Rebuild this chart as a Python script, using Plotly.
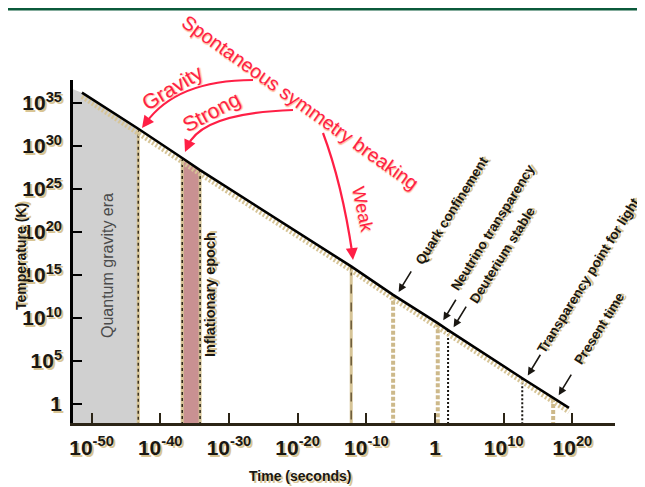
import plotly.graph_objects as go

# ---------------- data (log10 values) ----------------
# cooling curve: log10(time / s) and log10(temperature / K)
line_log_time = [-51.4, -43.2, -36.8, -34.2, -12.2, -6.1, 0.4, 1.9, 12.7, 17.2, 19.5]
line_log_temp = [36.2, 32.0, 28.6, 27.2, 16.0, 12.7, 9.4, 8.6, 3.0, 0.7, -0.45]

# quantum gravity era (shaded grey) upper edge
gravity_era_log_time = [-52.7, -51.4, -43.2]
gravity_era_log_temp = [36.6, 36.2, 32.0]

# inflationary epoch (shaded pink) upper edge
inflation_log_time = [-36.8, -34.2]
inflation_log_temp = [28.6, 27.2]

# events marked by vertical lines
event_names = ["Planck time", "Inflation start", "Inflation end", "Weak",
               "Quark confinement", "Neutrino transparency", "Deuterium stable",
               "Transparency point for light", "Present time"]
event_log_time = [-43.2, -36.8, -34.2, -12.2, -6.1, 0.4, 1.9, 12.7, 17.2]
event_log_temp = [32.0, 28.6, 27.2, 16.0, 12.7, 9.4, 8.6, 3.0, 0.7]

# tick labels
x_tick_exps = [-50, -40, -30, -20, -10, 0, 10, 20]
x_tick_text = ["10<sup>-50</sup>", "10<sup>-40</sup>", "10<sup>-30</sup>", "10<sup>-20</sup>",
               "10<sup>-10</sup>", "1", "10<sup>10</sup>", "10<sup>20</sup>"]
y_tick_exps = [0, 5, 10, 15, 20, 25, 30, 35]
y_tick_text = ["1", "10<sup>5</sup>", "10<sup>10</sup>", "10<sup>15</sup>", "10<sup>20</sup>",
               "10<sup>25</sup>", "10<sup>30</sup>", "10<sup>35</sup>"]

X_RANGE = [-52.7, 26.2]
Y_RANGE = [-2.2, 37.67]

# ---------------- styles ----------------
RED = "#ff1f45"
RED_SHADOW = "1px 1px 1px #ffb898"
BEIGE = "#d6c496"
DARK = "#1a1712"
NARROW = "Liberation Sans Narrow, Arial Narrow, Liberation Sans, Arial, sans-serif"
SANS = "Liberation Sans, Arial, sans-serif"
TXT_SHADOW = "2px 2px 0px #d9c594"

event_style = {
    "Planck time": ("dot", "#3a3020", 1.5, True),
    "Inflation start": ("dot", "#2a2418", 1.5, True),
    "Inflation end": ("dot", "#2a2418", 1.5, True),
    "Weak": ("dash", "#6b5a3a", 1.5, True),
    "Quark confinement": ("4px,2px", "#cdb98a", 4, False),
    "Neutrino transparency": ("4px,2px", "#cdb98a", 4, False),
    "Deuterium stable": ("2px,2px", "#1a1712", 2, False),
    "Transparency point for light": ("2px,2px", "#1a1712", 2, False),
    "Present time": ("4px,2px", "#cdb98a", 4, False),
}

def p(v):
    return 10.0 ** float(v)

fig = go.Figure()

ymin = p(Y_RANGE[0])

# quantum gravity era fill
gx = [p(v) for v in gravity_era_log_time] + [p(gravity_era_log_time[-1]), p(gravity_era_log_time[0])]
gy = [p(v) for v in gravity_era_log_temp] + [ymin, ymin]
fig.add_trace(go.Scatter(x=gx, y=gy, fill="toself", fillcolor="#d0d0d0",
                         line=dict(width=0), mode="lines", hoverinfo="skip", showlegend=False))

# inflation fill
ix = [p(v) for v in inflation_log_time] + [p(inflation_log_time[-1]), p(inflation_log_time[0])]
iy = [p(v) for v in inflation_log_temp] + [ymin, ymin]
fig.add_trace(go.Scatter(x=ix, y=iy, fill="toself", fillcolor="#c99192",
                         line=dict(width=0), mode="lines", hoverinfo="skip", showlegend=False))

# vertical event lines
for name, lt, lT in zip(event_names, event_log_time, event_log_temp):
    dash, col, w, under = event_style[name]
    if under:
        fig.add_trace(go.Scatter(x=[p(lt), p(lt)], y=[p(lT), ymin], mode="lines",
                                 line=dict(color=BEIGE, width=3), hoverinfo="skip", showlegend=False))
    fig.add_trace(go.Scatter(x=[p(lt), p(lt)], y=[p(lT), ymin], mode="lines",
                             line=dict(color=col, width=w, dash=dash), hoverinfo="skip", showlegend=False))

# beige hatched shadow below the cooling line
fig.add_trace(go.Scatter(x=[p(v) for v in line_log_time], y=[p(v - 0.45) for v in line_log_temp],
                         mode="lines", line=dict(color=BEIGE, width=5, dash="2px,2px"),
                         hoverinfo="skip", showlegend=False))
# cooling line
fig.add_trace(go.Scatter(x=[p(v) for v in line_log_time], y=[p(v) for v in line_log_temp],
                         mode="lines", line=dict(color="#000000", width=2.6),
                         showlegend=False))

annotations = []

# black event labels and arrows
label_offsets = {
    "Quark confinement": (59, 84),
    "Neutrino transparency": (55, 96),
    "Deuterium stable": (54, 75),
    "Transparency point for light": (66, 103),
    "Present time": (46, 70),
}
for name, lt, lT in zip(event_names, event_log_time, event_log_temp):
    if name not in label_offsets:
        continue
    dx, dy = label_offsets[name]
    annotations.append(dict(x=lt, y=lT, xref="x", yref="y", text="", showarrow=True,
                            ax=14, ay=-23, arrowhead=2, arrowsize=1, arrowwidth=1.6,
                            arrowcolor=DARK, xshift=5, yshift=2, standoff=1))
    annotations.append(dict(x=lt, y=lT, xref="x", yref="y", text=name, showarrow=False,
                            textangle=-58, xshift=dx, yshift=dy,
                            xanchor="center", yanchor="middle",
                            font=dict(family=NARROW, size=13.6, color=DARK, weight="bold",
                                      shadow=TXT_SHADOW)))

# red labels tied to events
red_labels = {"Planck time": ("Gravity", -31, 34, 41, 21),
              "Inflation start": ("Strong", -28, 29, 47, 21),
              "Weak": ("Weak", 78, 11, 57, 18)}
for name, lt, lT in zip(event_names, event_log_time, event_log_temp):
    if name in red_labels:
        txt, ang, dx, dy, sz = red_labels[name]
        annotations.append(dict(x=lt, y=lT, xref="x", yref="y", text=txt, showarrow=False,
                                textangle=ang, xshift=dx, yshift=dy,
                                xanchor="center", yanchor="middle",
                                font=dict(family=SANS, size=sz, color=RED, shadow=RED_SHADOW)))

# The page body has an 8px margin: the plot area (screen 73..615 x 80..423) is kept
# by shrinking the figure and its margins by 8px; helpers below use screen pixels.
OFF = 8
SL, SR, ST, SB = 73, 615, 80, 423           # plot area on screen
FIG_W, FIG_H = 645 - OFF, 487 - OFF
def px(x):
    return (x - SL) / (SR - SL)
def py(y):
    return (SB - y) / (SB - ST)

annotations.append(dict(x=px(300), y=py(102), xref="paper", yref="paper",
                        xanchor="center", yanchor="middle",
                        text="Spontaneous symmetry breaking", showarrow=False, textangle=35.5,
                        font=dict(family=SANS, size=19.5, color=RED, shadow=RED_SHADOW)))

# red curved arrows (quadratic paths) with heads
arrows = [((253, 80), (176.5, 80), (142, 128), (6, -8)),
          ((293, 110), (201, 113), (185, 152), (4, -9)),
          ((323, 133), (342, 183.5), (353, 260), (-1, -10))]
shapes = []
for (p0, c, p2, (ax, ay)) in arrows:
    path = "M {},{} Q {},{} {},{}".format(px(p0[0]), py(p0[1]), px(c[0]), py(c[1]),
                                          px(p2[0] + ax * 0.6), py(p2[1] + ay * 0.6))
    shapes.append(dict(type="path", path=path, xref="paper", yref="paper",
                       line=dict(color=RED, width=2.2)))
    annotations.append(dict(x=px(p2[0]), y=py(p2[1]), xref="paper", yref="paper", text="",
                            showarrow=True, ax=ax, ay=ay, arrowhead=2, arrowsize=1.2,
                            arrowwidth=2, arrowcolor=RED))

# region labels
annotations.append(dict(x=px(107), y=py(266), xref="paper", yref="paper",
                        xanchor="center", yanchor="middle",
                        text="Quantum gravity era", showarrow=False, textangle=-90,
                        font=dict(family=SANS, size=16, color="#4a4a4a")))
annotations.append(dict(x=px(210), y=py(295), xref="paper", yref="paper",
                        xanchor="center", yanchor="middle",
                        text="Inflationary epoch", showarrow=False, textangle=-90,
                        font=dict(family=NARROW, size=14.5, color=DARK, weight="bold",
                                  shadow=TXT_SHADOW)))

# axis titles
annotations.append(dict(x=px(21), y=py(257), xref="paper", yref="paper",
                        xanchor="center", yanchor="middle",
                        text="Temperature (K)", showarrow=False, textangle=-90,
                        font=dict(family=NARROW, size=14, color=DARK, weight="bold",
                                  shadow=TXT_SHADOW)))
annotations.append(dict(x=px(300), y=py(476), xref="paper", yref="paper",
                        xanchor="center", yanchor="middle",
                        text="Time (seconds)", showarrow=False,
                        font=dict(family=NARROW, size=14, color=DARK, weight="bold",
                                  shadow=TXT_SHADOW)))

# top rule
shapes.append(dict(type="line", xref="paper", yref="paper", x0=px(0), x1=px(660),
                   y0=py(9.3), y1=py(9.3), line=dict(color="#0b5a3b", width=2.6)))

tickfont = dict(family=NARROW, size=21, color=DARK, weight="bold", shadow=TXT_SHADOW)

fig.update_layout(
    width=FIG_W, height=FIG_H,
    margin=dict(l=SL - OFF, r=FIG_W - (SR - OFF), t=ST - OFF, b=FIG_H - (SB - OFF)),
    paper_bgcolor="white", plot_bgcolor="white",
    showlegend=False,
    annotations=annotations,
    shapes=shapes,
    xaxis=dict(type="log", range=X_RANGE, showgrid=False, zeroline=False,
               showline=True, linecolor="#2b2416", linewidth=2.5,
               ticks="inside", ticklen=10, tickwidth=2, tickcolor="#2b2416",
               tickvals=[p(v) for v in x_tick_exps], ticktext=x_tick_text,
               tickfont=tickfont, ticklabelstandoff=4),
    yaxis=dict(type="log", range=Y_RANGE, showgrid=False, zeroline=False,
               showline=True, linecolor="#000000", linewidth=2.5,
               ticks="inside", ticklen=9, tickwidth=2, tickcolor="#000000",
               tickvals=[p(v) for v in y_tick_exps], ticktext=y_tick_text,
               tickfont=tickfont, ticklabelstandoff=4),
)

fig.write_html("out.html")
